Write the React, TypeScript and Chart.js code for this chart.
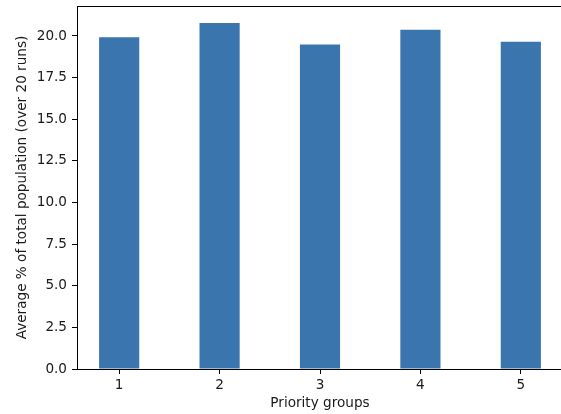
import React, { useEffect, useRef } from "react";
import { Chart, registerables } from "chart.js";

Chart.register(...registerables);

const groups = [1, 2, 3, 4, 5];
const groupLabels = ["1", "2", "3", "4", "5"];
const averagePct = [19.93, 20.78, 19.49, 20.37, 19.65];
const yTicks = [0, 2.5, 5, 7.5, 10, 12.5, 15, 17.5, 20];

const FONT = "'DejaVu Sans', sans-serif";
const FS = 13.6;

const framePlugin = {
  id: "frame",
  afterDraw(chart: any) {
    const { ctx, chartArea } = chart;
    const l = Math.round(chartArea.left) + 0.5;
    const t = Math.round(chartArea.top) + 0.5;
    const r = Math.round(chartArea.right) + 0.5;
    const b = Math.round(chartArea.bottom) + 0.5;
    ctx.save();
    ctx.strokeStyle = "#000";
    ctx.lineWidth = 1;
    ctx.beginPath();
    ctx.moveTo(l, b);
    ctx.lineTo(l, t);
    ctx.lineTo(r, t);
    ctx.lineTo(r, b);
    ctx.lineTo(l, b);
    ctx.stroke();
    ctx.restore();
  },
};

export default function App() {
  const ref = useRef<HTMLCanvasElement>(null);
  useEffect(() => {
    if (!ref.current) return;
    const chart = new Chart(ref.current, {
      type: "bar",
      data: {
        datasets: [
          {
            data: groups.map((g, i) => ({ x: g, y: averagePct[i] })),
            backgroundColor: "#3a75ae",
            borderWidth: 0,
            barPercentage: 0.4,
            categoryPercentage: 1,
          },
        ],
      },
      plugins: [framePlugin],
      options: {
        animation: false,
        responsive: false,
        devicePixelRatio: 1,
        layout: { padding: { left: 0, top: 6, right: 17, bottom: 0 } },
        plugins: { legend: { display: false }, tooltip: { enabled: false } },
        scales: {
          x: {
            type: "linear",
            min: 0.58,
            max: 5.42,
            offset: false,
            afterBuildTicks: (s: any) => {
              s.ticks = groups.map((v) => ({ value: v }));
            },
            afterFit: (s: any) => {
              s.height = 45;
              s.paddingLeft = 0;
              s.paddingRight = 0;
            },
            ticks: {
              color: "#1a1a1a",
              font: { family: FONT, size: FS },
              padding: 3,
              maxRotation: 0,
              callback: (v: any) => {
                const i = groups.indexOf(Number(v));
                return i >= 0 ? groupLabels[i] : "";
              },
            },
            grid: {
              display: true,
              offset: false,
              drawOnChartArea: false,
              drawTicks: true,
              tickLength: 5,
              tickColor: "#000",
            },
            border: { display: true, color: "#000", width: 1 },
            title: {
              display: true,
              text: "Priority groups",
              color: "#1a1a1a",
              font: { family: FONT, size: FS },
              padding: { top: 0, bottom: 2 },
            },
          },
          y: {
            type: "linear",
            min: 0,
            max: 21.8,
            afterBuildTicks: (s: any) => {
              s.ticks = yTicks.map((v) => ({ value: v }));
            },
            afterFit: (s: any) => {
              s.width = 77;
              s.paddingTop = 0;
              s.paddingBottom = 0;
            },
            ticks: {
              color: "#1a1a1a",
              font: { family: FONT, size: FS },
              padding: 5,
              callback: (v: any) => Number(v).toFixed(1),
            },
            grid: {
              display: true,
              drawOnChartArea: false,
              drawTicks: true,
              tickLength: 5,
              tickColor: "#000",
            },
            border: { display: true, color: "#000", width: 1 },
            title: {
              display: true,
              text: "Average % of total population (over 20 runs)",
              color: "#1a1a1a",
              font: { family: FONT, size: FS },
              padding: { top: 14, bottom: 0 },
            },
          },
        },
      },
    });
    return () => chart.destroy();
  }, []);
  return (
    <div
      style={{
        position: "fixed",
        left: 0,
        top: 0,
        width: 561,
        height: 414,
        overflow: "hidden",
        background: "#fff",
      }}
    >
      <canvas ref={ref} width={580} height={414} style={{ display: "block" }} />
    </div>
  );
}
